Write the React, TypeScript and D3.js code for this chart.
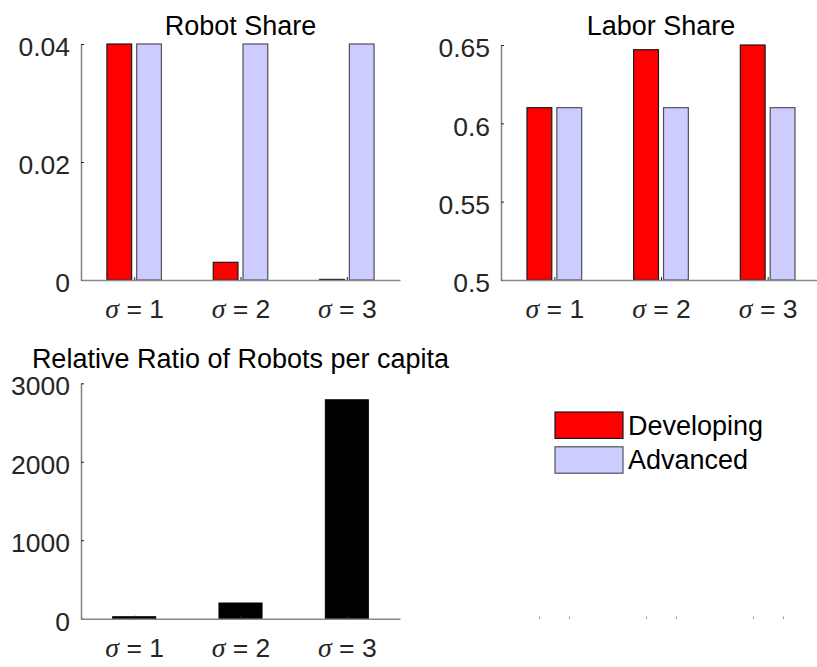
import React, { useEffect, useRef } from 'react';
import * as d3 from 'd3';

// data
const categories = ['1', '2', '3'];
const series = ['Developing', 'Advanced'];
const seriesFill = ['#ff0000', '#ccccff'];
const seriesEdge = ['#1a1a1a', '#50505a'];

const robotDeveloping = [0.04, 0.003, 0.0001];
const robotAdvanced = [0.04, 0.04, 0.04];
const laborDeveloping = [0.61, 0.647, 0.65];
const laborAdvanced = [0.61, 0.61, 0.61];
const relativeRatio = [25, 200, 2790];
const hiddenValues = [0, 0, 0];

const robotTicks = [0, 0.02, 0.04];
const laborTicks = [0.5, 0.55, 0.6, 0.65];
const ratioTicks = [0, 1000, 2000, 3000];

const width = 817;
const height = 667;
const tickFont = 26.5;
const titleFont = 27;
const font = '"Liberation Sans", Arial, Helvetica, sans-serif';

function drawPanel(svg, opts) {
    const { left, right, top, bottom, domain, ticks, values, title, titleY, single } = opts;
    const g = svg.append('g');

    const x = d3.scalePoint().domain(categories).range([left, right]).padding(0.5);
    const step = x.step();
    const inner = d3.scaleBand()
        .domain(series)
        .range([-step / 2, step / 2])
        .paddingInner(0.17)
        .paddingOuter(0.87);
    const y = d3.scaleLinear().domain(domain).range([bottom, top]);

    // bars
    if (single) {
        const bw = step * 0.405;
        g.selectAll('.bar')
            .data(values[0])
            .join('rect')
            .attr('x', (d, i) => x(categories[i]) - bw / 2)
            .attr('y', d => y(d))
            .attr('width', bw)
            .attr('height', d => y(domain[0]) - y(d))
            .attr('fill', '#000')
            .attr('stroke', '#000')
            .attr('stroke-width', 1);
    } else {
        series.forEach((s, j) => {
            g.selectAll('.bar-' + j)
                .data(values[j])
                .join('rect')
                .attr('x', (d, i) => x(categories[i]) + inner(s))
                .attr('y', d => y(d))
                .attr('width', inner.bandwidth())
                .attr('height', d => Math.max(0.8, y(domain[0]) - y(d)))
                .attr('fill', seriesFill[j])
                .attr('stroke', seriesEdge[j])
                .attr('stroke-width', 1.2);
        });
    }

    // axes
    const yAxis = d3.axisLeft(y)
        .tickValues(ticks)
        .tickSizeInner(-3)
        .tickSizeOuter(0)
        .tickPadding(11)
        .tickFormat(d3.format('~g'));
    const ya = g.append('g').attr('transform', 'translate(' + left + ',0)').call(yAxis);

    const xAxis = d3.axisBottom(x).tickSizeInner(-3).tickSizeOuter(0).tickPadding(19);
    const xa = g.append('g').attr('transform', 'translate(0,' + bottom + ')').call(xAxis);

    [ya, xa].forEach(a => {
        a.attr('font-size', tickFont).attr('font-family', font);
        a.select('.domain').attr('stroke', '#888').attr('stroke-width', 1.6);
        a.selectAll('.tick line').attr('stroke', '#262626');
        a.selectAll('.tick text').attr('fill', '#262626');
    });
    ya.selectAll('.tick text').attr('dy', '0.44em');

    xa.selectAll('.tick text').each(function (d) {
        const t = d3.select(this);
        t.text(null);
        t.append('tspan')
            .attr('font-family', '"Liberation Serif", "Times New Roman", serif')
            .attr('font-style', 'italic')
            .attr('font-size', tickFont * 1.05)
            .text('σ');
        t.append('tspan').text(' = ' + d);
    });

    g.append('text')
        .attr('x', (left + right) / 2)
        .attr('y', titleY)
        .attr('text-anchor', 'middle')
        .attr('font-family', font)
        .attr('font-size', titleFont)
        .attr('fill', '#000')
        .text(title);
}

function App() {
    const svgRef = useRef(null);

    useEffect(() => {
        const svg = d3.select(svgRef.current);
        svg.selectAll('*').remove();

        drawPanel(svg, {
            left: 81, right: 400, top: 44, bottom: 280,
            domain: [0, 0.04], ticks: robotTicks,
            values: [robotDeveloping, robotAdvanced],
            title: 'Robot Share', titleY: 35
        });

        drawPanel(svg, {
            left: 501, right: 821, top: 45, bottom: 280,
            domain: [0.5, 0.65], ticks: laborTicks,
            values: [laborDeveloping, laborAdvanced],
            title: 'Labor Share', titleY: 35
        });

        drawPanel(svg, {
            left: 81, right: 400, top: 383.3, bottom: 618.7,
            domain: [0, 3000], ticks: ratioTicks,
            values: [relativeRatio],
            title: 'Relative Ratio of Robots per capita', titleY: 368,
            single: true
        });

        // hidden fourth axes that holds the legend: only zero-height bar stubs show
        const hx = d3.scalePoint().domain(categories).range([501, 821]).padding(0.5);
        const hInner = d3.scaleBand()
            .domain(series)
            .range([-hx.step() / 2, hx.step() / 2])
            .paddingInner(0.17)
            .paddingOuter(0.87);
        const hy = d3.scaleLinear().domain([0, 1]).range([619, 383]);
        const hg = svg.append('g');
        series.forEach(s => {
            hg.selectAll('.stub-' + s)
                .data(hiddenValues)
                .join('line')
                .attr('x1', (d, i) => Math.round(hx(categories[i]) + hInner(s) + hInner.bandwidth() / 2) + 0.5)
                .attr('x2', (d, i) => Math.round(hx(categories[i]) + hInner(s) + hInner.bandwidth() / 2) + 0.5)
                .attr('y1', d => hy(d))
                .attr('y2', d => hy(d) - 2.5)
                .attr('stroke', '#999')
                .attr('stroke-width', 1);
        });

        // legend
        const legend = svg.append('g').attr('transform', 'translate(555,412)');
        const rowY = d3.scaleBand().domain(series).range([0, 69.6]);
        series.forEach((s, j) => {
            legend.append('rect')
                .attr('x', 0)
                .attr('y', rowY(s))
                .attr('width', 68)
                .attr('height', 26.4)
                .attr('fill', seriesFill[j])
                .attr('stroke', seriesEdge[j])
                .attr('stroke-width', 1.2);
            legend.append('text')
                .attr('x', 73)
                .attr('y', rowY(s) + 22.5)
                .attr('font-family', font)
                .attr('font-size', titleFont)
                .attr('fill', '#000')
                .text(s);
        });
    }, []);

    return (
        <svg
            ref={svgRef}
            width={width}
            height={height}
            style={{ position: 'absolute', left: 0, top: 0, background: '#fff' }}
        />
    );
}

export default App;
